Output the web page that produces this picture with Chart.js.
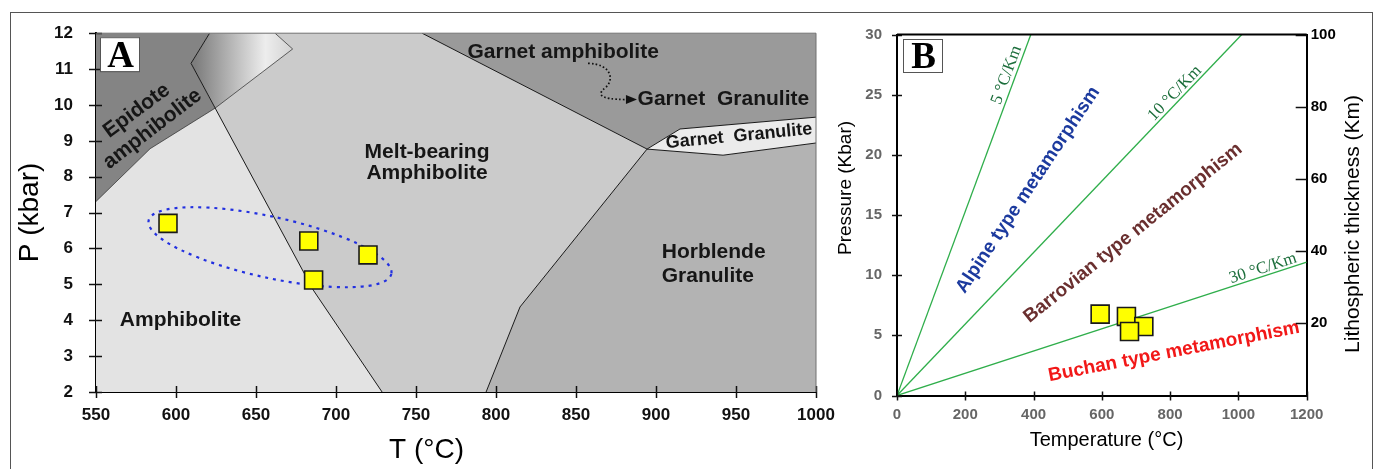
<!DOCTYPE html>
<html lang="en">
<head>
  <meta charset="UTF-8" />
  <title>P–T facies diagram and metamorphic field gradients</title>
  <script src="https://cdn.jsdelivr.net/npm/chart.js"></script>
  <style>
    html, body { margin: 0; padding: 0; background: #fff; }
    body { width: 1378px; height: 469px; position: relative; overflow: hidden; }
    .frame {
      position: absolute;
      left: 10px; top: 12px;
      width: 1361px; height: 480px;
      border: 1.5px solid #555;
    }
    canvas { position: absolute; left: 0; top: 0; }
  </style>
</head>
<body>
  <div class="frame"></div>
  <canvas id="panelA" width="1378" height="469"></canvas>
  <canvas id="panelB" width="1378" height="469"></canvas>

  <script>
    // ---------- Panel A: facies fields, T (°C) vs P (kbar) ----------
    const tempTicksA = [550, 600, 650, 700, 750, 800, 850, 900, 950, 1000];
    const pressTicksA = [2, 3, 4, 5, 6, 7, 8, 9, 10, 11, 12];

    const amphiboliteField = [[550, 2], [1000, 2], [1000, 12], [550, 12]];
    const epidoteField = [[550, 12], [621, 12], [609.4, 11.16], [624.4, 9.91], [583.8, 8.78], [550, 7.31]];
    const transitionField = [[621, 12], [661.9, 12], [672.9, 11.56], [624.4, 9.91], [609.4, 11.16]];
    const meltField = [[624.4, 9.91], [672.9, 11.56], [661.9, 12], [753.8, 12], [894.4, 8.77],
                       [815, 4.37], [793.8, 2], [728.8, 2], [685.8, 4.84]];
    const garnetAmphField = [[753.8, 12], [1000, 12], [1000, 9.66], [915, 9.33], [894.4, 8.77]];
    const hornblendeField = [[894.4, 8.77], [941.9, 8.6], [1000, 8.94], [1000, 2], [793.8, 2], [815, 4.37]];
    const garnetGranField = [[894.4, 8.77], [915, 9.33], [1000, 9.66], [1000, 8.94], [941.9, 8.6]];

    const meltEdge = [[621, 12], [609.4, 11.16], [685.8, 4.84], [728.8, 2]];
    const epidoteEdge = [[550, 7.31], [583.8, 8.78], [624.4, 9.91], [672.9, 11.56], [661.9, 12]];
    const garnetEdge = [[753.8, 12], [894.4, 8.77], [815, 4.37], [793.8, 2]];
    const bandTopEdge = [[894.4, 8.77], [915, 9.33], [1000, 9.66]];
    const bandLowEdge = [[894.4, 8.77], [941.9, 8.6], [1000, 8.94]];

    const samplesTA = [595, 683, 720, 686];
    const samplesPA = [6.70, 6.21, 5.82, 5.12];

    // ---------- Panel B: geotherms, T (°C) vs P (kbar) and depth (km) ----------
    const tempTicksB = [0, 200, 400, 600, 800, 1000, 1200];
    const pressTicksB = [0, 5, 10, 15, 20, 25, 30];
    const depthTicksB = [20, 40, 60, 80, 100];

    const gradientNames = ['5 °C/Km', '10 °C/Km', '30 °C/Km'];
    const gradientEnds = [[392, 30], [1010, 30], [1200, 11.08]];

    const samplesTB = [595, 672, 723, 681];
    const samplesPB = [6.76, 6.57, 5.73, 5.32];

    const SANS = '"Liberation Sans", Arial, sans-serif';
    const SERIF = '"Liberation Serif", "Times New Roman", serif';

    const xy = arr => arr.map(([x, y]) => ({ x, y }));

    function fieldSet(label, arr, color) {
      return { label, data: xy(arr), fill: 'shape', backgroundColor: color,
               borderColor: 'rgba(0,0,0,0)', borderWidth: 1, pointRadius: 0, tension: 0 };
    }
    function edgeSet(label, arr, color, width) {
      return { label, data: xy(arr), fill: false, borderColor: color, borderWidth: width,
               pointRadius: 0, tension: 0 };
    }
    function sampleSet(ts, ps) {
      return { label: 'samples', data: ts.map((t, i) => ({ x: t, y: ps[i] })), showLine: false,
               pointStyle: 'rect', pointRadius: 12.7, pointHoverRadius: 12.7,
               pointBackgroundColor: '#ffff00', pointBorderColor: '#1a1a1a', pointBorderWidth: 1.6 };
    }
    // first dataset in the list is painted first
    function stackOrder(list) {
      list.forEach((d, i) => { d.order = list.length - i; });
      return list;
    }
    const fixedTicks = arr => scale => { scale.ticks = arr.map(v => ({ value: v })); };
    const plainNumber = v => String(v);

    // tick marks that cross the axis line
    const tickMarks = {
      id: 'tickMarks',
      afterDraw(chart, args, opts) {
        const c = chart.ctx;
        c.save();
        c.strokeStyle = '#111';
        c.lineWidth = 1.5;
        for (const spec of opts.axes || []) {
          const s = chart.scales[spec.id];
          for (const t of s.ticks) {
            const p = Math.round(s.getPixelForValue(t.value)) + 0.5;
            c.beginPath();
            if (s.isHorizontal()) {
              c.moveTo(p, s.top - spec.inner); c.lineTo(p, s.top + spec.outer);
            } else if (s.position === 'left') {
              c.moveTo(s.right + spec.inner, p); c.lineTo(s.right - spec.outer, p);
            } else {
              c.moveTo(s.left - spec.inner, p); c.lineTo(s.left + spec.outer, p);
            }
            c.stroke();
          }
        }
        c.restore();
      }
    };

    // plot edges not covered by the axis borders
    const plotEdges = {
      id: 'plotEdges',
      afterDraw(chart, args, opts) {
        const a = chart.chartArea, c = chart.ctx;
        c.save();
        c.strokeStyle = opts.color;
        c.lineWidth = opts.width;
        c.beginPath();
        c.moveTo(a.left, a.top);
        c.lineTo(a.right, a.top);
        if (opts.right) c.lineTo(a.right, a.bottom);
        c.stroke();
        c.restore();
      }
    };

    // dashed ellipse around the samples, drawn just before the squares
    const sampleRing = {
      id: 'sampleRing',
      beforeDatasetDraw(chart, args, opts) {
        if (!opts.ends || chart.data.datasets[args.index].label !== 'samples') return;
        const xs = chart.scales.x, ys = chart.scales.y, c = chart.ctx;
        const [p, q] = opts.ends;
        const x1 = xs.getPixelForValue(p[0]), y1 = ys.getPixelForValue(p[1]);
        const x2 = xs.getPixelForValue(q[0]), y2 = ys.getPixelForValue(q[1]);
        c.save();
        c.strokeStyle = '#2230e0';
        c.lineWidth = 2.2;
        c.setLineDash([3, 5]);
        c.beginPath();
        c.ellipse((x1 + x2) / 2, (y1 + y2) / 2, Math.hypot(x2 - x1, y2 - y1) / 2, opts.minor,
                  Math.atan2(y2 - y1, x2 - x1), 0, Math.PI * 2);
        c.stroke();
        c.restore();
      }
    };

    // dotted curved arrow between the two garnet labels
    const curlArrow = {
      id: 'curlArrow',
      afterDatasetsDraw(chart, args, opts) {
        if (!opts.path) return;
        const xs = chart.scales.x, ys = chart.scales.y, c = chart.ctx;
        const px = p => [xs.getPixelForValue(p[0]), ys.getPixelForValue(p[1])];
        const [s, c1, c2, m, c3, c4, e] = opts.path.map(px);
        const tip = px(opts.tip);
        c.save();
        c.strokeStyle = '#111';
        c.lineWidth = 1.7;
        c.setLineDash([1.6, 2.2]);
        c.beginPath();
        c.moveTo(...s);
        c.bezierCurveTo(...c1, ...c2, ...m);
        c.bezierCurveTo(...c3, ...c4, ...e);
        c.stroke();
        c.setLineDash([]);
        c.fillStyle = '#111';
        c.beginPath();
        c.moveTo(tip[0], tip[1]);
        c.lineTo(tip[0] - 11, tip[1] - 4.5);
        c.lineTo(tip[0] - 11, tip[1] + 4.5);
        c.closePath();
        c.fill();
        c.restore();
      }
    };

    // field names, gradient labels and axis titles
    const notes = {
      id: 'notes',
      afterDatasetsDraw(chart, args, opts) {
        const xs = chart.scales.x, ys = chart.scales.y, c = chart.ctx;
        for (const n of opts.items || []) {
          let x, y, rot = n.rot || 0;
          if (n.px !== undefined) { x = n.px; y = n.py; }
          else { x = xs.getPixelForValue(n.at[0]); y = ys.getPixelForValue(n.at[1]); }
          if (n.along) {
            const dx = xs.getPixelForValue(n.along[0]) - xs.getPixelForValue(0);
            const dy = ys.getPixelForValue(n.along[1]) - ys.getPixelForValue(0);
            rot = Math.atan2(dy, dx) * 180 / Math.PI;
          }
          c.save();
          c.translate(x, y);
          c.rotate(rot * Math.PI / 180);
          c.font = n.font;
          c.fillStyle = n.color || '#161616';
          c.textAlign = n.align || 'center';
          c.textBaseline = 'middle';
          c.fillText(n.text, 0, 0);
          c.restore();
        }
      }
    };

    // boxed panel letter
    const panelTag = {
      id: 'panelTag',
      afterDraw(chart, args, opts) {
        const a = chart.chartArea, c = chart.ctx;
        const x = a.left + opts.dx, y = a.top + opts.dy;
        c.save();
        c.fillStyle = '#fff';
        c.fillRect(x, y, opts.w, opts.h);
        c.strokeStyle = '#555';
        c.lineWidth = 1;
        c.strokeRect(x + 0.5, y + 0.5, opts.w, opts.h);
        c.fillStyle = '#000';
        c.font = 'bold 37px ' + SERIF;
        c.textAlign = 'center';
        c.textBaseline = 'alphabetic';
        c.fillText(opts.text, x + opts.w / 2 + 1, y + opts.h - 4);
        c.restore();
      }
    };

    const shade = ctx => {
      const chart = ctx.chart;
      if (!chart.chartArea) return '#aaa';
      const xs = chart.scales.x;
      const g = chart.ctx.createLinearGradient(xs.getPixelForValue(612), 0, xs.getPixelForValue(673), 0);
      g.addColorStop(0, '#7d7d7d');
      g.addColorStop(0.72, '#ededed');
      g.addColorStop(1, '#d2d2d2');
      return g;
    };

    const tickFont = (size, color) => ({ font: { family: SANS, size, weight: 'bold' }, color, callback: plainNumber });

    // ---------- Panel A ----------
    new Chart(document.getElementById('panelA'), {
      type: 'line',
      data: {
        datasets: stackOrder([
          fieldSet('Amphibolite', amphiboliteField, '#e3e3e3'),
          fieldSet('Melt-bearing Amphibolite', meltField, '#cbcbcb'),
          fieldSet('Epidote amphibolite', epidoteField, '#848484'),
          fieldSet('transition', transitionField, shade),
          fieldSet('Garnet amphibolite', garnetAmphField, '#9a9a9a'),
          fieldSet('Horblende Granulite', hornblendeField, '#b3b3b3'),
          fieldSet('Garnet Granulite', garnetGranField, '#ebebeb'),
          edgeSet('epidote edge', epidoteEdge, '#3a3a3a', 0.8),
          edgeSet('melt edge', meltEdge, '#1a1a1a', 1),
          edgeSet('garnet edge', garnetEdge, '#1a1a1a', 1),
          edgeSet('band top', bandTopEdge, '#1a1a1a', 1),
          edgeSet('band low', bandLowEdge, '#1a1a1a', 1),
          sampleSet(samplesTA, samplesPA)
        ])
      },
      options: {
        responsive: false,
        animation: false,
        events: [],
        layout: { padding: { left: 0, top: 33, right: 562, bottom: 0 } },
        scales: {
          x: {
            type: 'linear', min: 550, max: 1000, z: 1,
            afterBuildTicks: fixedTicks(tempTicksA),
            afterFit: s => { s.height = 77; },
            grid: { display: false, drawTicks: false },
            border: { display: true, color: '#000', width: 2 },
            ticks: { ...tickFont(17, '#111'), padding: 13, maxRotation: 0, autoSkip: false }
          },
          y: {
            type: 'linear', min: 2, max: 12, z: 1,
            afterBuildTicks: fixedTicks(pressTicksA),
            afterFit: s => { s.width = 96; },
            grid: { display: false, drawTicks: false },
            border: { display: true, color: '#000', width: 2 },
            ticks: { ...tickFont(17, '#111'), padding: 23, autoSkip: false }
          }
        },
        plugins: {
          legend: { display: false },
          tooltip: { enabled: false },
          tickMarks: { axes: [{ id: 'x', inner: 6, outer: 6 }, { id: 'y', inner: 6, outer: 7 }] },
          plotEdges: { color: '#707070', width: 1, right: true },
          sampleRing: { ends: [[582.9, 6.78], [734.6, 5.29]], minor: 30.5 },
          curlArrow: {
            path: [[857.5, 11.16], [872.5, 11.14], [873.75, 10.69], [868.75, 10.5],
                   [863.1, 10.3], [863.75, 10.16], [881.25, 10.15]],
            tip: [888.1, 10.15]
          },
          notes: {
            items: [
              { text: 'Epidote', at: [575.4, 9.84], rot: -36.5, font: 'bold 21px ' + SANS },
              { text: 'amphibolite', at: [585.3, 9.33], rot: -37.5, font: 'bold 21px ' + SANS },
              { text: 'Melt-bearing', at: [756.9, 8.69], font: 'bold 21px ' + SANS },
              { text: 'Amphibolite', at: [756.9, 8.1], font: 'bold 21px ' + SANS },
              { text: 'Amphibolite', at: [602.8, 4.0], font: 'bold 21px ' + SANS },
              { text: 'Horblende', at: [903.6, 5.9], align: 'left', font: 'bold 21px ' + SANS },
              { text: 'Granulite', at: [903.6, 5.23], align: 'left', font: 'bold 21px ' + SANS },
              { text: 'Garnet amphibolite', at: [842, 11.48], font: 'bold 21px ' + SANS },
              { text: 'Garnet  Granulite', at: [888.5, 10.16], align: 'left', font: 'bold 21px ' + SANS },
              { text: 'Garnet  Granulite', at: [951.9, 9.13], rot: -5.5, font: 'bold 18px ' + SANS },
              { text: 'P (kbar)', px: 30, py: 212.5, rot: -90, font: '28px ' + SANS, color: '#000' },
              { text: 'T (°C)', px: 426.5, py: 450, font: '28px ' + SANS, color: '#000' }
            ]
          },
          panelTag: { text: 'A', dx: 4, dy: 4, w: 39, h: 34 }
        }
      },
      plugins: [tickMarks, plotEdges, sampleRing, curlArrow, notes, panelTag]
    });

    // ---------- Panel B ----------
    new Chart(document.getElementById('panelB'), {
      type: 'line',
      data: {
        datasets: stackOrder([
          ...gradientEnds.map((e, i) => edgeSet(gradientNames[i], [[0, 0], e], '#2fae4b', 1.3)),
          sampleSet(samplesTB, samplesPB)
        ])
      },
      options: {
        responsive: false,
        animation: false,
        events: [],
        layout: { padding: { left: 857, top: 34.5, right: 11.3, bottom: 0 } },
        scales: {
          x: {
            type: 'linear', min: 0, max: 1200, z: 1,
            afterBuildTicks: fixedTicks(tempTicksB),
            afterFit: s => { s.height = 73.5; },
            grid: { display: false, drawTicks: false },
            border: { display: true, color: '#000', width: 2 },
            ticks: { ...tickFont(15, '#666'), padding: 10.5, maxRotation: 0, autoSkip: false }
          },
          y: {
            type: 'linear', min: 0, max: 30, z: 1,
            afterBuildTicks: fixedTicks(pressTicksB),
            afterFit: s => { s.width = 40; },
            grid: { display: false, drawTicks: false },
            border: { display: true, color: '#000', width: 2 },
            ticks: { ...tickFont(15, '#666'), padding: 15, autoSkip: false }
          },
          depth: {
            type: 'linear', position: 'right', min: 0, max: 100, z: 1,
            afterBuildTicks: fixedTicks(depthTicksB),
            afterFit: s => { s.width = 60; },
            grid: { display: false, drawTicks: false },
            border: { display: true, color: '#000', width: 2 },
            ticks: { ...tickFont(15, '#000'), padding: 4, autoSkip: false }
          }
        },
        plugins: {
          legend: { display: false },
          tooltip: { enabled: false },
          tickMarks: { axes: [{ id: 'x', inner: 4, outer: 5 }, { id: 'y', inner: 5, outer: 5 },
                              { id: 'depth', inner: 11, outer: 0 }] },
          plotEdges: { color: '#000', width: 2, right: false },
          sampleRing: {},
          curlArrow: {},
          notes: {
            items: [
              { text: gradientNames[0], at: [321, 26.64], along: gradientEnds[0], font: '17px ' + SERIF, color: '#1d6e3c' },
              { text: gradientNames[1], at: [814, 25.12], along: gradientEnds[1], font: '17px ' + SERIF, color: '#1d6e3c' },
              { text: gradientNames[2], at: [1072, 10.57], along: gradientEnds[2], font: '17px ' + SERIF, color: '#1d6e3c' },
              { text: 'Alpine type metamorphism', at: [383.7, 17.08], rot: -56.3, font: 'bold 19px ' + SANS, color: '#1c3a9e' },
              { text: 'Barrovian type metamorphism', at: [691.3, 13.5], rot: -38.9, font: 'bold 19px ' + SANS, color: '#6a2f2f' },
              { text: 'Buchan type metamorphism', at: [811.4, 3.64], rot: -11, font: 'bold 19px ' + SANS, color: '#f21818' },
              { text: 'Pressure (Kbar)', px: 846, py: 188, rot: -90, font: '19px ' + SANS, color: '#000' },
              { text: 'Temperature (°C)', px: 1106.5, py: 440, font: '20px ' + SANS, color: '#000' },
              { text: 'Lithospheric thickness (Km)', px: 1353, py: 224, rot: -90, font: '21px ' + SANS, color: '#000' }
            ]
          },
          panelTag: { text: 'B', dx: 6, dy: 4.5, w: 39, h: 33 }
        }
      },
      plugins: [tickMarks, plotEdges, sampleRing, curlArrow, notes, panelTag]
    });
  </script>
</body>
</html>
